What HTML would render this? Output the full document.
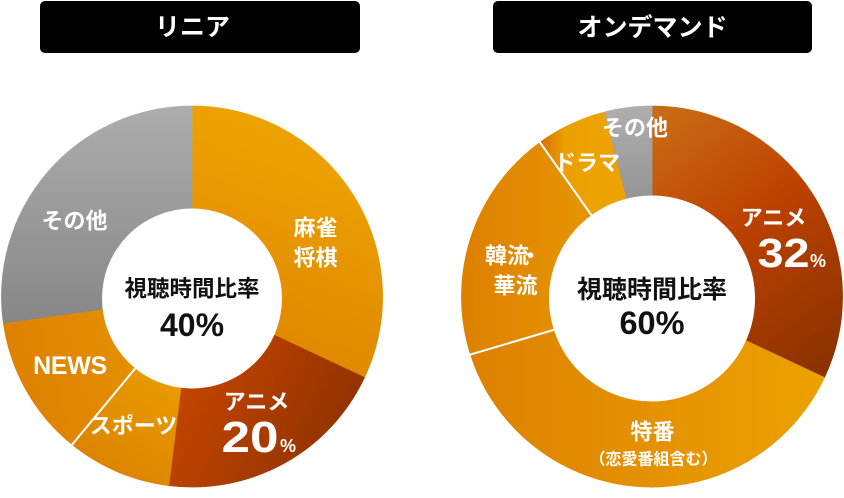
<!DOCTYPE html>
<html><head><meta charset="utf-8"><style>
html,body{margin:0;padding:0;background:#fff;}
svg{display:block;}
text{font-family:"Liberation Sans","Noto Sans CJK JP",sans-serif;font-weight:bold;}
</style></head><body>
<svg width="844" height="498" viewBox="0 0 844 498" xmlns="http://www.w3.org/2000/svg">
<defs>
<linearGradient id="lA" gradientUnits="userSpaceOnUse" x1="330" y1="140" x2="250" y2="360"><stop offset="0" stop-color="#eda300"/><stop offset="1" stop-color="#df8600"/></linearGradient>
<linearGradient id="lB" gradientUnits="userSpaceOnUse" x1="185" y1="390" x2="360" y2="470"><stop offset="0" stop-color="#c24400"/><stop offset="1" stop-color="#893000"/></linearGradient>
<linearGradient id="lC" gradientUnits="userSpaceOnUse" x1="160" y1="375" x2="100" y2="470"><stop offset="0" stop-color="#e89b00"/><stop offset="1" stop-color="#dd8300"/></linearGradient>
<linearGradient id="lD" gradientUnits="userSpaceOnUse" x1="20" y1="360" x2="125" y2="330"><stop offset="0" stop-color="#de8200"/><stop offset="1" stop-color="#e48f00"/></linearGradient>
<linearGradient id="lE" gradientUnits="userSpaceOnUse" x1="0" y1="106" x2="0" y2="325"><stop offset="0" stop-color="#adadad"/><stop offset="1" stop-color="#868686"/></linearGradient>
<linearGradient id="rA" gradientUnits="userSpaceOnUse" x1="660" y1="120" x2="840" y2="360"><stop offset="0" stop-color="#c96a14"/><stop offset="0.45" stop-color="#bc4100"/><stop offset="1" stop-color="#8a3200"/></linearGradient>
<linearGradient id="rB" gradientUnits="userSpaceOnUse" x1="465" y1="0" x2="840" y2="0"><stop offset="0" stop-color="#dd8000"/><stop offset="1" stop-color="#eca300"/></linearGradient>
<linearGradient id="rC" gradientUnits="userSpaceOnUse" x1="465" y1="0" x2="595" y2="0"><stop offset="0" stop-color="#de8000"/><stop offset="1" stop-color="#e69600"/></linearGradient>
<linearGradient id="rD" gradientUnits="userSpaceOnUse" x1="542" y1="0" x2="600" y2="0"><stop offset="0" stop-color="#d87200"/><stop offset="0.4" stop-color="#eba000"/><stop offset="1" stop-color="#eca200"/></linearGradient>
<linearGradient id="rE" gradientUnits="userSpaceOnUse" x1="0" y1="106" x2="0" y2="200"><stop offset="0" stop-color="#aeaeae"/><stop offset="1" stop-color="#949494"/></linearGradient>
</defs>

<!-- Title boxes -->
<rect x="40" y="1" width="320" height="52" rx="5" fill="#000"/>
<text x="192.5" y="35.5" font-size="25" fill="#fff" text-anchor="middle">リニア</text>
<rect x="493" y="1" width="319" height="52" rx="5" fill="#000"/>
<text x="652.5" y="36" font-size="25" fill="#fff" text-anchor="middle">オンデマンド</text>

<!-- Left donut -->
<g stroke-width="0.8">
<path d="M192,296.5 L192,106 A190.5,190.5 0 0 1 364.4,377.6 Z" fill="url(#lA)" stroke="url(#lA)"/>
<path d="M192,296.5 L364.4,377.6 A190.5,190.5 0 0 1 168.8,485.6 Z" fill="url(#lB)" stroke="url(#lB)"/>
<path d="M192,296.5 L168.8,485.6 A190.5,190.5 0 0 1 72.1,444.5 Z" fill="url(#lC)" stroke="url(#lC)"/>
<path d="M192,296.5 L72.1,444.5 A190.5,190.5 0 0 1 3.4,323.0 Z" fill="url(#lD)" stroke="url(#lD)"/>
<path d="M192,296.5 L3.4,323.0 A190.5,190.5 0 0 1 192,106 Z" fill="url(#lE)" stroke="url(#lE)"/>
</g>
<circle cx="192" cy="298.5" r="90" fill="#fff"/>
<line x1="136" y1="367.5" x2="71" y2="446" stroke="#fff" stroke-width="2"/>

<!-- Right donut -->
<g stroke-width="0.8">
<path d="M652,296.5 L652,106 A190.5,190.5 0 0 1 824.4,377.6 Z" fill="url(#rA)" stroke="url(#rA)"/>
<path d="M652,296.5 L824.4,377.6 A190.5,190.5 0 0 1 470.5,354.4 Z" fill="url(#rB)" stroke="url(#rB)"/>
<path d="M652,296.5 L470.5,354.4 A190.5,190.5 0 0 1 540,142.4 Z" fill="url(#rC)" stroke="url(#rC)"/>
<path d="M652,296.5 L540,142.4 A190.5,190.5 0 0 1 604.6,112.0 Z" fill="url(#rD)" stroke="url(#rD)"/>
<path d="M652,296.5 L604.6,112.0 A190.5,190.5 0 0 1 652,106 Z" fill="url(#rE)" stroke="url(#rE)"/>
</g>
<circle cx="652" cy="298.5" r="103" fill="#fff"/>
<line x1="555" y1="329.5" x2="469" y2="355" stroke="#fff" stroke-width="2"/>
<line x1="592" y1="216" x2="539" y2="141" stroke="#fff" stroke-width="2"/>

<!-- Left center text -->
<text x="192" y="296.5" font-size="22.5" fill="#111" text-anchor="middle">視聴時間比率</text>
<text x="192" y="336" font-size="32" fill="#111" text-anchor="middle">40%</text>

<!-- Right center text -->
<text x="652" y="298" font-size="25" fill="#111" text-anchor="middle">視聴時間比率</text>
<text x="652" y="334" font-size="32.5" fill="#111" text-anchor="middle">60%</text>

<!-- Left labels -->
<g fill="#fff">
<text x="74.5" y="228.5" font-size="22" text-anchor="middle">その他</text>
<text x="315.5" y="235.5" font-size="22" text-anchor="middle">麻雀</text>
<text x="315.5" y="265.5" font-size="22" text-anchor="middle">将棋</text>
<text x="70" y="374" font-size="25" text-anchor="middle" letter-spacing="-0.3">NEWS</text>
<text x="133.5" y="433.5" font-size="22" text-anchor="middle">スポーツ</text>
<text x="256.5" y="409.5" font-size="22" text-anchor="middle">アニメ</text>
<text x="221.5" y="452" font-size="44" textLength="57" lengthAdjust="spacingAndGlyphs">20</text>
<text x="280" y="452" font-size="18">%</text>
</g>

<!-- Right labels -->
<g fill="#fff">
<text x="635" y="135.5" font-size="22" text-anchor="middle">その他</text>
<text x="587" y="170.5" font-size="22" text-anchor="middle">ドラマ</text>
<text x="773.5" y="225.5" font-size="22" text-anchor="middle">アニメ</text>
<text x="757.5" y="267" font-size="41" textLength="52" lengthAdjust="spacingAndGlyphs">32</text>
<text x="810" y="267" font-size="18">%</text>
<text x="485" y="263.5" font-size="22">韓流</text>
<text x="530.5" y="263.5" font-size="22" text-anchor="middle">・</text>
<text x="493.5" y="293.5" font-size="22">華流</text>
<text x="652.5" y="439.5" font-size="22" text-anchor="middle">特番</text>
<text x="653.5" y="464.5" font-size="16" text-anchor="middle">（恋愛番組含む）</text>
</g>
</svg>
</body></html>
